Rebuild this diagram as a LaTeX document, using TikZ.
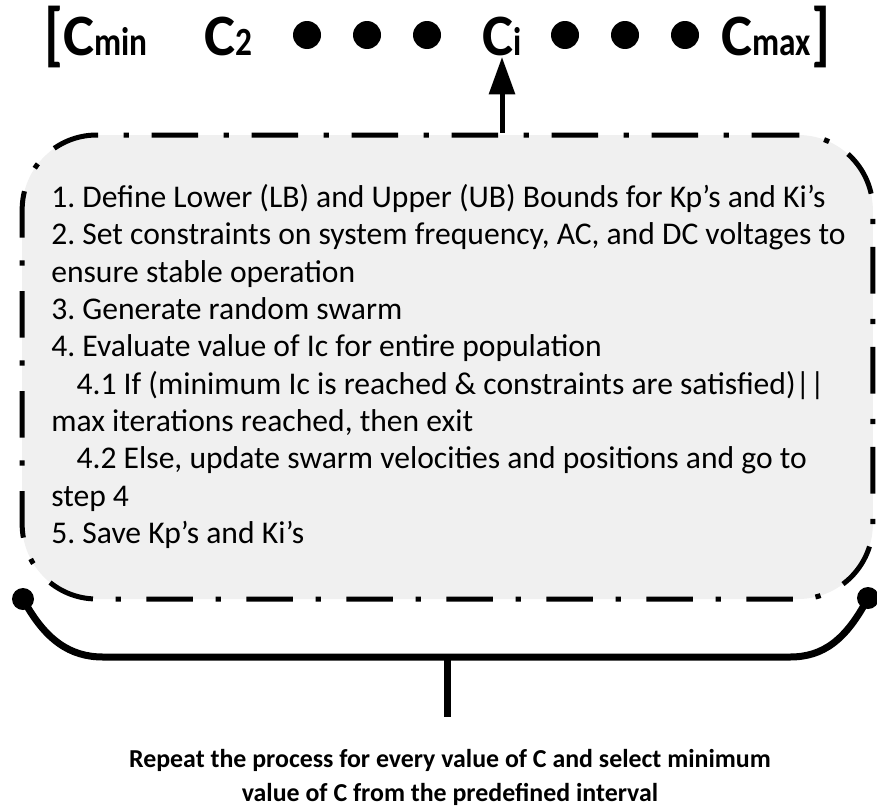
\documentclass[tikz,border=0pt]{standalone}
\usepackage{fontspec}
\setmainfont{Carlito}
\usetikzlibrary{arrows.meta,positioning,calc}
\definecolor{PanelGray}{RGB}{240,240,240}
\newcommand{\csub}[1]{\scalebox{1}[1.2]{\fontsize{25}{25}\selectfont #1}}
\newcommand{\tallbr}[1]{\raisebox{-2pt}{\scalebox{1}[1.2]{#1}}}
\tikzset{
  pso/title/.style={font=\fontsize{44}{44}\selectfont\bfseries, inner sep=0pt, anchor=base west},
  pso/dot/.style={circle, fill=black, minimum size=21pt, inner sep=0pt},
  pso/panel/.style={
    draw=black,
    line width=3.75pt,
    fill=PanelGray,
    rounded corners=56pt,
    dash pattern=on 35pt off 17pt on 4pt off 19pt,
    minimum width=638pt,
    minimum height=348pt
  },
  pso/steps/.style={font=\fontsize{23.7}{28}\selectfont, align=left, inner sep=0pt, anchor=north west},
  pso/note/.style={font=\fontsize{19.4}{25.5}\selectfont\bfseries, align=center, inner sep=0pt, anchor=north},
  pso/arrow/.style={-{Triangle[length=28pt,width=19pt]}, line width=3.75pt},
  pso/brace/.style={line width=5.25pt},
  pso/end/.style={circle, fill=black, minimum size=16.5pt, inner sep=0pt}
}

\begin{document}
\frenchspacing
\begin{tikzpicture}[x=0.75pt,y=-0.75pt]
  \useasboundingbox (0,0) rectangle (877,810);
  % interval of C values
  \node[pso/title] (lbr) at (44,55) {\tallbr{[}};
  \node[pso/title] (cmin) at (63,55) {C\csub{min}};
  \node[pso/title] (c2) at (204,55) {C\csub{2}};
  \node[pso/dot] (d1) at (307,35) {};
  \node[pso/dot] (d2) at (367,35) {};
  \node[pso/dot] (d3) at (427,35) {};
  \node[pso/title] (ci) at (482,55) {C\csub{i}};
  \node[pso/dot] (d4) at (565,35) {};
  \node[pso/dot] (d5) at (625,35) {};
  \node[pso/dot] (d6) at (685,35) {};
  \node[pso/title] (cmax) at (721,55) {C\csub{max}};
  \node[pso/title,anchor=base east] (rbr) at (831,55) {\tallbr{]}};
  \coordinate (ci tip) at (502,57);

  % PSO steps
  \node[pso/panel] (panel) at (447.5,367) {};
  \node[pso/steps] (steps) at (51,184) {1. Define Lower (LB) and Upper (UB) Bounds for Kp’s and Ki’s\\
    2. Set constraints on system frequency, AC, and DC voltages to\\
    ensure stable operation\\
    3. Generate random swarm\\
    4. Evaluate value of Ic for entire population\\
    \hspace*{19pt}4.1 If (minimum Ic is reached \& constraints are satisfied)||\\
    max iterations reached, then exit\\
    \hspace*{19pt}4.2 Else, update swarm velocities and positions and go to\\
    step 4\\
    5. Save Kp’s and Ki’s};
  \draw[pso/arrow] (ci tip |- panel.north) -- (ci tip);

  % brace over all values
  \node[pso/end] (lend) at (23,599) {};
  \node[pso/end] (rend) at (868,598) {};
  \coordinate (bl) at (103,657);
  \coordinate (br) at (790,657);
  \coordinate (mid) at (447,657);
  \coordinate (stem) at (447,717);
  \draw[pso/brace] (lend.center) .. controls (45,640) and (70,657) .. (bl) -- (br)
    .. controls (823,657) and (846,640) .. (rend.center);
  \draw[pso/brace] (mid) -- (stem);
  \node[pso/note] (note) at (450,749) {Repeat the process for every value of C and select minimum\\
    value of C from the predefined interval};
\end{tikzpicture}
\end{document}
